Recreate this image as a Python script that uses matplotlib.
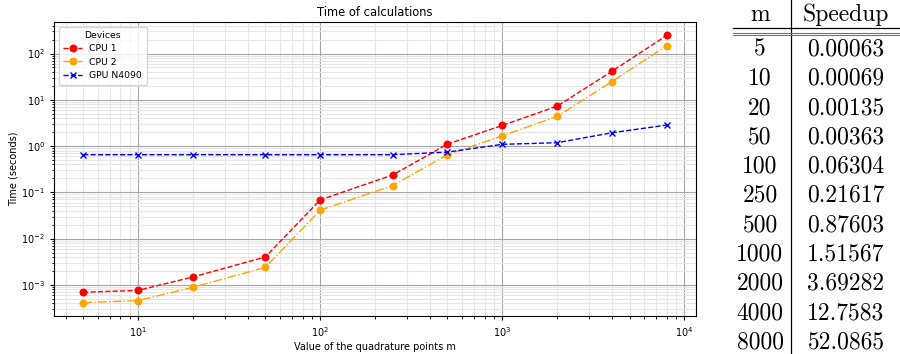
import numpy as np
import matplotlib.pyplot as plt
from matplotlib.lines import Line2D

m = [5, 10, 20, 50, 100, 250, 500, 1000, 2000, 4000, 8000]
cpu1 = [0.00069, 0.00076, 0.00148, 0.0040, 0.0686, 0.237, 1.10, 2.79, 7.28, 41.3, 246.6]
cpu2 = [0.000413, 0.000457, 0.000885, 0.00239, 0.0411, 0.140, 0.65, 1.67, 4.36, 24.8, 147.8]
gpu = [0.65, 0.65, 0.65, 0.65, 0.65, 0.65, 0.74, 1.09, 1.18, 1.94, 2.84]
speedup = ["0.00063", "0.00069", "0.00135", "0.00363", "0.06304", "0.21617",
           "0.87603", "1.51567", "3.69282", "12.7583", "52.0865"]

W, H = 900, 354
fig = plt.figure(figsize=(W / 100, H / 100), dpi=100)
ax = fig.add_axes([54 / W, 1 - 316 / H, (696 - 54) / W, (316 - 22) / H])

ax.plot(m, cpu1, color="red", ls="--", marker="o", ms=4.7, lw=1, label="CPU 1")
ax.plot(m, cpu2, color="orange", ls="-.", marker="o", ms=4.7, lw=1, label="CPU 2")
ax.plot(m, gpu, color="blue", ls="--", marker="x", ms=4.7, lw=1, label="GPU N4090")
ax.set_xscale("log")
ax.set_yscale("log")

ax.grid(True, which="major", color="0.65", lw=0.8)
ax.grid(True, which="minor", color="0.9", lw=0.8)
ax.tick_params(labelsize=7, length=3)
ax.tick_params(which="minor", length=1.8)
ax.set_title("Time of calculations", fontsize=8.3, pad=4)
ax.set_xlabel("Value of the quadrature points m", fontsize=7, labelpad=2)
ax.set_ylabel("Time (seconds)", fontsize=7, labelpad=2)
ax.legend(title="Devices", loc="upper left", fontsize=6.7, title_fontsize=6.7,
          borderpad=0.5, labelspacing=0.45, handlelength=2.0)

# table on the right
def fx(x):
    return x / W

def fy(y):
    return 1 - y / H

tf = dict(family="cmr10", fontsize=17, va="baseline")
fig.text(fx(760), fy(21), "m", ha="center", **tf)
fig.text(fx(846), fy(21), "Speedup", ha="center", **tf)
for i, (mm, s) in enumerate(zip(m, speedup)):
    yb = 55.5 + 29.3 * i
    fig.text(fx(760), fy(yb), str(mm), ha="center", **tf)
    fig.text(fx(846), fy(yb), s, ha="center", **tf)

fig.add_artist(Line2D([fx(791), fx(791)], [0, 1], color="black", lw=0.9, transform=fig.transFigure))
fig.add_artist(Line2D([fx(733), 1], [fy(27.7), fy(27.7)], color="black", lw=0.9, transform=fig.transFigure))
fig.add_artist(Line2D([fx(733), 1], [fy(32.8), fy(32.8)], color="0.45", lw=0.8, transform=fig.transFigure))
fig.add_artist(Line2D([fx(733), 1], [fy(34.8), fy(34.8)], color="0.45", lw=0.8, transform=fig.transFigure))

fig.savefig("out.png", dpi=100)
